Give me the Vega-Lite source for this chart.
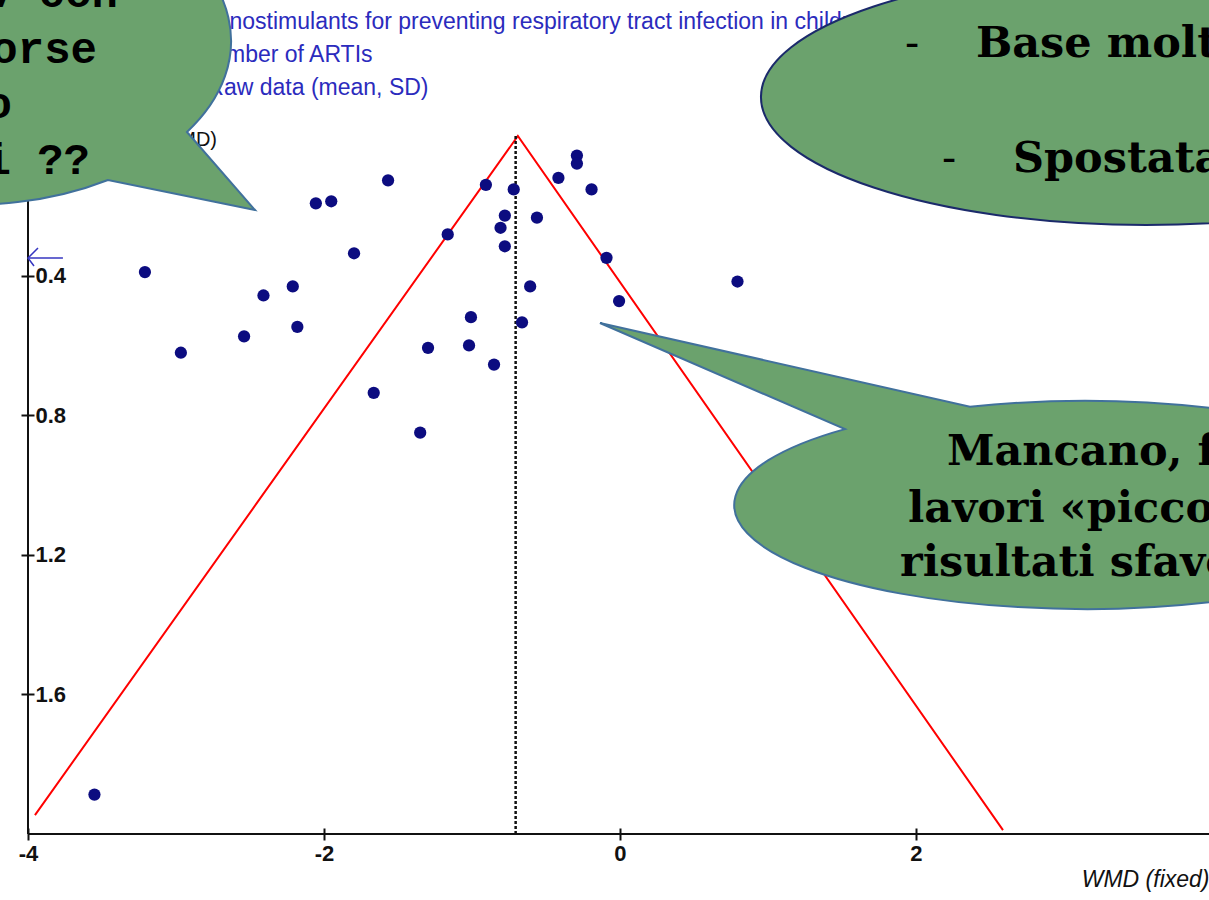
{
  "$schema": "https://vega.github.io/schema/vega-lite/v6.json",
  "width": 1181,
  "height": 698,
  "autosize": {"type": "none"},
  "padding": {"left": 28, "top": 136, "right": 0, "bottom": 66},
  "background": "white",
  "config": {"view": {"stroke": null}, "font": "Liberation Sans"},
  "datasets": {
    "studies": [
      {"wmd": -3.210, "se": 0.390}, {"wmd": -2.967, "se": 0.621}, {"wmd": -2.540, "se": 0.574},
      {"wmd": -2.409, "se": 0.457}, {"wmd": -2.211, "se": 0.431}, {"wmd": -2.180, "se": 0.547},
      {"wmd": -2.055, "se": 0.193}, {"wmd": -1.951, "se": 0.187}, {"wmd": -1.797, "se": 0.336},
      {"wmd": -1.664, "se": 0.736}, {"wmd": -1.567, "se": 0.127}, {"wmd": -1.350, "se": 0.850},
      {"wmd": -1.297, "se": 0.607}, {"wmd": -1.164, "se": 0.282}, {"wmd": -1.020, "se": 0.600},
      {"wmd": -1.007, "se": 0.519}, {"wmd": -0.906, "se": 0.140}, {"wmd": -0.851, "se": 0.655},
      {"wmd": -0.807, "se": 0.263}, {"wmd": -0.778, "se": 0.228}, {"wmd": -0.778, "se": 0.316},
      {"wmd": -0.718, "se": 0.153}, {"wmd": -0.662, "se": 0.534}, {"wmd": -0.607, "se": 0.431},
      {"wmd": -0.561, "se": 0.234}, {"wmd": -0.416, "se": 0.120}, {"wmd": -0.291, "se": 0.056},
      {"wmd": -0.291, "se": 0.079}, {"wmd": -0.192, "se": 0.153}, {"wmd": -0.091, "se": 0.349},
      {"wmd": -0.006, "se": 0.473}, {"wmd": 0.794, "se": 0.417}, {"wmd": -3.551, "se": 1.887}
    ],
    "funnel": [
      {"wmd": -3.953, "se": 1.946},
      {"wmd": -0.69, "se": 0},
      {"wmd": 2.588, "se": 1.989}
    ]
  },
  "layer": [
    {
      "data": {"name": "funnel"},
      "mark": {"type": "line", "color": "#ff0000", "strokeWidth": 2},
      "encoding": {
        "x": {"field": "wmd", "type": "quantitative",
          "scale": {"domain": [-4, 3.98], "nice": false, "zero": false},
          "axis": {"values": [-4, -2, 0, 2], "domain": false, "offset": -6, "tickSize": 12, "tickWidth": 2, "tickColor": "#111",
            "grid": false, "labelFontSize": 22, "labelFont": "Liberation Sans", "labelFontWeight": "bold", "labelColor": "#111",
            "labelPadding": 3, "labelFlush": false, "labelExpr": "'' + datum.value",
            "title": "WMD (fixed)", "titleFont": "Liberation Sans", "titleFontSize": 23, "titleFontStyle": "italic",
            "titleFontWeight": "normal", "titleColor": "#111", "titleAnchor": "end", "titlePadding": 4}},
        "y": {"field": "se", "type": "quantitative",
          "scale": {"domain": [0, 2], "nice": false, "zero": false, "reverse": true},
          "axis": {"values": [0.4, 0.8, 1.2, 1.6], "domain": false, "offset": -6, "tickSize": 13, "tickWidth": 2, "tickColor": "#111",
            "grid": false, "labelFontSize": 22, "labelFont": "Liberation Sans", "labelFontWeight": "bold", "labelColor": "#111",
            "labelAlign": "left", "labelPadding": -14,
            "labelExpr": "format(datum.value, '.1f')", "title": null}}
      }
    },
    {
      "data": {"values": [{}]},
      "mark": {"type": "rule", "color": "#111", "strokeWidth": 2},
      "encoding": {
        "x": {"datum": -4, "type": "quantitative"},
        "x2": {"datum": 3.98},
        "y": {"datum": 2, "type": "quantitative"}
      }
    },
    {
      "data": {"values": [{}]},
      "mark": {"type": "rule", "color": "#111", "strokeWidth": 2},
      "encoding": {
        "x": {"datum": -4, "type": "quantitative"},
        "y": {"datum": 0, "type": "quantitative"},
        "y2": {"datum": 2}
      }
    },
    {
      "data": {"values": [{}]},
      "mark": {"type": "rule", "color": "#111", "strokeWidth": 2.5, "strokeDash": [3, 2]},
      "encoding": {
        "x": {"datum": -0.705, "type": "quantitative"},
        "y": {"datum": 0, "type": "quantitative"},
        "y2": {"datum": 2}
      }
    },
    {
      "data": {"name": "studies"},
      "mark": {"type": "circle", "size": 150, "color": "#0c0c80", "opacity": 1},
      "encoding": {
        "x": {"field": "wmd", "type": "quantitative"},
        "y": {"field": "se", "type": "quantitative"}
      }
    },
    {
      "data": {"values": [{}]},
      "mark": {"type": "rule", "color": "#3636c0", "strokeWidth": 1.5},
      "encoding": {
        "x": {"datum": -4.0, "type": "quantitative"},
        "x2": {"datum": -3.764},
        "y": {"datum": 0.3496, "type": "quantitative"}
      }
    },
    {
      "data": {"values": [{}]},
      "mark": {"type": "point", "shape": "M1,-1L0,0L0.6,0.8", "size": 400, "filled": false, "color": "#3636c0", "strokeWidth": 1.5, "opacity": 1},
      "encoding": {
        "x": {"datum": -4.0, "type": "quantitative"},
        "y": {"datum": 0.3496, "type": "quantitative"}
      }
    },
    {
      "data": {"values": [{}]},
      "mark": {"type": "text", "text": "Immunostimulants for preventing respiratory tract infection in children", "align": "left", "baseline": "alphabetic", "font": "Liberation Sans", "fontSize": 23, "color": "#2b2bbd"},
      "encoding": {
        "x": {"datum": -3.027, "type": "quantitative"},
        "y": {"datum": -0.3066, "type": "quantitative"}
      }
    },
    {
      "data": {"values": [{}]},
      "mark": {"type": "text", "text": "Number of ARTIs", "align": "left", "baseline": "alphabetic", "font": "Liberation Sans", "fontSize": 23, "color": "#2b2bbd"},
      "encoding": {
        "x": {"datum": -2.861, "type": "quantitative"},
        "y": {"datum": -0.212, "type": "quantitative"}
      }
    },
    {
      "data": {"values": [{}]},
      "mark": {"type": "text", "text": "Raw data (mean, SD)", "align": "left", "baseline": "alphabetic", "font": "Liberation Sans", "fontSize": 23, "color": "#2b2bbd"},
      "encoding": {
        "x": {"datum": -2.788, "type": "quantitative"},
        "y": {"datum": -0.1175, "type": "quantitative"}
      }
    },
    {
      "data": {"values": [{}]},
      "mark": {"type": "text", "text": "SE(WMD)", "align": "right", "baseline": "alphabetic", "font": "Liberation Sans", "fontSize": 20, "color": "#111"},
      "encoding": {
        "x": {"datum": -2.723, "type": "quantitative"},
        "y": {"datum": 0.0287, "type": "quantitative"}
      }
    },
    {
      "data": {"values": [{}]},
      "mark": {"type": "point", "shape": "M1.38,1.40 A2.62,1.64 0 1 1 2.17,0.92 L2.85,1.70 Z", "size": 40000, "filled": true, "fill": "#6ba26d", "stroke": "#41719c", "strokeWidth": 2, "opacity": 1, "fillOpacity": 1, "strokeOpacity": 1},
      "encoding": {
        "x": {"datum": -4.392, "type": "quantitative"},
        "y": {"datum": -0.2751, "type": "quantitative"}
      }
    },
    {
      "data": {"values": [{}]},
      "mark": {"type": "text", "text": "Lav con", "align": "right", "baseline": "alphabetic", "font": "Liberation Mono", "fontWeight": "bold", "fontSize": 44, "color": "#000"},
      "encoding": {
        "x": {"datum": -3.392, "type": "quantitative"},
        "y": {"datum": -0.3696, "type": "quantitative"}
      }
    },
    {
      "data": {"values": [{}]},
      "mark": {"type": "text", "text": "forse", "align": "right", "baseline": "alphabetic", "font": "Liberation Mono", "fontWeight": "bold", "fontSize": 44, "color": "#000"},
      "encoding": {
        "x": {"datum": -3.534, "type": "quantitative"},
        "y": {"datum": -0.2092, "type": "quantitative"}
      }
    },
    {
      "data": {"values": [{}]},
      "mark": {"type": "text", "text": "no", "align": "right", "baseline": "alphabetic", "font": "Liberation Mono", "fontWeight": "bold", "fontSize": 44, "color": "#000"},
      "encoding": {
        "x": {"datum": -4.108, "type": "quantitative"},
        "y": {"datum": -0.0516, "type": "quantitative"}
      }
    },
    {
      "data": {"values": [{}]},
      "mark": {"type": "text", "text": "pubblicati ??", "align": "right", "baseline": "alphabetic", "font": "Liberation Mono", "fontWeight": "bold", "fontSize": 44, "color": "#000"},
      "encoding": {
        "x": {"datum": -3.581, "type": "quantitative"},
        "y": {"datum": 0.1089, "type": "quantitative"}
      }
    },
    {
      "data": {"values": [{}]},
      "mark": {"type": "point", "shape": "M-3.85,0 A3.85,1.28 0 1 1 3.85,0 A3.85,1.28 0 1 1 -3.85,0 Z", "size": 40000, "filled": true, "fill": "#6ba26d", "stroke": "#1b2a6b", "strokeWidth": 2, "opacity": 1, "fillOpacity": 1, "strokeOpacity": 1},
      "encoding": {
        "x": {"datum": 3.554, "type": "quantitative"},
        "y": {"datum": -0.1117, "type": "quantitative"}
      }
    },
    {
      "data": {"values": [{}]},
      "mark": {"type": "text", "text": "-", "align": "left", "baseline": "alphabetic", "font": "DejaVu Serif", "fontSize": 42, "color": "#000"},
      "encoding": {
        "x": {"datum": 1.926, "type": "quantitative"},
        "y": {"datum": -0.2264, "type": "quantitative"}
      }
    },
    {
      "data": {"values": [{}]},
      "mark": {"type": "text", "text": "Base molto stretta", "align": "left", "baseline": "alphabetic", "font": "DejaVu Serif", "fontWeight": "bold", "fontSize": 43, "color": "#000"},
      "encoding": {
        "x": {"datum": 2.405, "type": "quantitative"},
        "y": {"datum": -0.2264, "type": "quantitative"}
      }
    },
    {
      "data": {"values": [{}]},
      "mark": {"type": "text", "text": "-", "align": "left", "baseline": "alphabetic", "font": "DejaVu Serif", "fontSize": 42, "color": "#000"},
      "encoding": {
        "x": {"datum": 2.176, "type": "quantitative"},
        "y": {"datum": 0.1032, "type": "quantitative"}
      }
    },
    {
      "data": {"values": [{}]},
      "mark": {"type": "text", "text": "Spostata a sinistra", "align": "left", "baseline": "alphabetic", "font": "DejaVu Serif", "fontWeight": "bold", "fontSize": 43, "color": "#000"},
      "encoding": {
        "x": {"datum": 2.655, "type": "quantitative"},
        "y": {"datum": 0.1032, "type": "quantitative"}
      }
    },
    {
      "data": {"values": [{}]},
      "mark": {"type": "point", "shape": "M-1.14,-0.983 A3.5,1.04 0 1 1 -2.39,-0.759 L-4.84,-1.82 Z", "size": 40000, "filled": true, "fill": "#6ba26d", "stroke": "#41719c", "strokeWidth": 2, "opacity": 1, "fillOpacity": 1, "strokeOpacity": 1},
      "encoding": {
        "x": {"datum": 3.135, "type": "quantitative"},
        "y": {"datum": 1.0573, "type": "quantitative"}
      }
    },
    {
      "data": {"values": [{}]},
      "mark": {"type": "text", "text": "Mancano, forse,", "align": "left", "baseline": "alphabetic", "font": "DejaVu Serif", "fontWeight": "bold", "fontSize": 43, "color": "#000"},
      "encoding": {
        "x": {"datum": 2.209, "type": "quantitative"},
        "y": {"datum": 0.9427, "type": "quantitative"}
      }
    },
    {
      "data": {"values": [{}]},
      "mark": {"type": "text", "text": "lavori «piccoli» con", "align": "left", "baseline": "alphabetic", "font": "DejaVu Serif", "fontWeight": "bold", "fontSize": 43, "color": "#000"},
      "encoding": {
        "x": {"datum": 1.946, "type": "quantitative"},
        "y": {"datum": 1.106, "type": "quantitative"}
      }
    },
    {
      "data": {"values": [{}]},
      "mark": {"type": "text", "text": "risultati sfavorevoli", "align": "left", "baseline": "alphabetic", "font": "DejaVu Serif", "fontWeight": "bold", "fontSize": 43, "color": "#000"},
      "encoding": {
        "x": {"datum": 1.892, "type": "quantitative"},
        "y": {"datum": 1.2607, "type": "quantitative"}
      }
    }
  ]
}
